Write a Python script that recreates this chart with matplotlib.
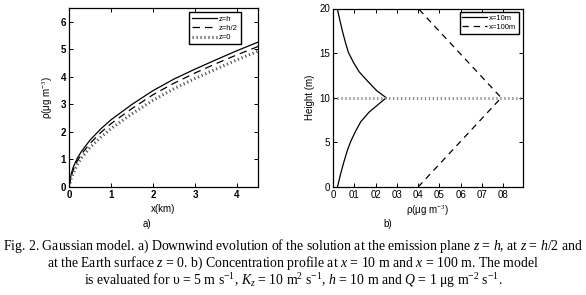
import matplotlib.pyplot as plt
import numpy as np

plt.rcParams['font.family'] = ['Liberation Sans', 'DejaVu Sans']
plt.rcParams['mathtext.fontset'] = 'custom'
plt.rcParams['mathtext.rm'] = 'Liberation Serif'
plt.rcParams['mathtext.it'] = 'Liberation Serif:italic'

# a) downwind evolution (read off the picture)
x_km = [0, 0.05, 0.1, 0.2, 0.3, 0.5, 0.75, 1, 1.5, 2, 2.5, 3, 3.5, 4, 4.5]
rho_h = [0, 0.45, 0.72, 1.05, 1.3, 1.7, 2.1, 2.44, 3.0, 3.5, 3.92, 4.28, 4.62, 4.95, 5.26]
rho_h2 = [0, 0.38, 0.62, 0.95, 1.2, 1.58, 1.97, 2.3, 2.85, 3.35, 3.77, 4.14, 4.48, 4.8, 5.1]
rho_0 = [0, 0.3, 0.5, 0.82, 1.06, 1.43, 1.8, 2.12, 2.66, 3.15, 3.57, 3.94, 4.28, 4.62, 4.93]

# b) vertical profiles
height = [0, 1.4, 2.8, 4.0, 5.1, 6.2, 7.3, 8.4, 9.2, 10, 10.8, 11.8, 12.9, 14.0, 15.1, 16.3, 17.4, 18.7, 20]
rho_10m = [0.021, 0.035, 0.051, 0.066, 0.083, 0.105, 0.13, 0.17, 0.21, 0.25,
           0.205, 0.165, 0.123, 0.095, 0.072, 0.057, 0.045, 0.032, 0.02]
height_100 = [0, 10, 20]
rho_100m = [0.40, 0.79, 0.40]
source_x = [0, 0.89]
source_h = [10, 10]

xticks_b = [0, 0.1, 0.2, 0.3, 0.4, 0.5, 0.6, 0.7, 0.8]
xlabels_b = ['0', '01', '02', '03', '04', '05', '06', '07', '08']

fig = plt.figure(figsize=(5.86, 2.95), dpi=100)

# panel a
ax1 = fig.add_axes([69/586, 1-187/295, 189/586, 179/295])
ax1.plot(x_km, rho_h, color='k', lw=0.9, label='z=h')
ax1.plot(x_km, rho_h2, color='k', lw=0.9, ls=(0, (6, 4)), label='z=h/2')
ax1.plot(x_km, rho_0, color='#555555', lw=2.2, ls=(0, (0.4, 0.9)), label='z=0')
ax1.set_xlim(0, 4.5)
ax1.set_ylim(0, 6.5)
ax1.set_xticks([0, 1, 2, 3, 4])
ax1.set_yticks([0, 1, 2, 3, 4, 5, 6])
ax1.set_xlabel('x(km)', fontsize=7, labelpad=3)
ax1.set_ylabel(r'ρ(μg m$^{-3}$)', fontsize=7, labelpad=4)
for lab in ax1.get_xticklabels() + ax1.get_yticklabels():
    lab.set_fontweight('bold')
ax1.legend(loc='upper right', bbox_to_anchor=(0.91, 0.975), fontsize=5.5,
           frameon=True, fancybox=False, edgecolor='k', framealpha=1,
           handlelength=3.2, handletextpad=0.3, borderpad=0.4,
           labelspacing=0.25, borderaxespad=0)

# panel b
ax2 = fig.add_axes([333/586, 1-187/295, 189.5/586, 178.5/295])
ax2.plot(rho_10m, height, color='k', lw=0.9, label='x=10m')
ax2.plot(rho_100m, height_100, color='k', lw=0.9, ls=(0, (5, 4)), label='x=100m')
ax2.plot(source_x, source_h, color='#888888', lw=2.2, ls=(0, (0.4, 0.9)))
ax2.set_xlim(0, 0.89)
ax2.set_ylim(0, 20)
ax2.set_xticks(xticks_b)
ax2.set_xticklabels(xlabels_b)
ax2.set_yticks([0, 5, 10, 15, 20])
ax2.set_xlabel(r'ρ(μg m$^{-3}$)', fontsize=7, labelpad=3)
ax2.set_ylabel('Height (m)', fontsize=7, labelpad=3)
ax2.legend(loc='upper right', bbox_to_anchor=(0.98, 0.98), fontsize=5.5,
           frameon=True, fancybox=False, edgecolor='k', framealpha=1,
           handlelength=3.2, handletextpad=0.3, borderpad=0.35,
           labelspacing=0.2, borderaxespad=0)

for ax in (ax1, ax2):
    ax.tick_params(direction='in', top=True, right=True, labelsize=7,
                   length=3, width=0.7, pad=2)
    for s in ax.spines.values():
        s.set_linewidth(0.9)

fig.text(147/586, 1-224/295, 'a)', fontsize=7, ha='center', va='center')
fig.text(388/586, 1-224/295, 'b)', fontsize=7, ha='center', va='center')

cap_kw = dict(fontsize=9.9, ha='center', va='center', family='Liberation Serif')
fig.text(0.5, 1-246/295,
         r'Fig. 2. Gaussian model. a) Downwind evolution of the solution at the emission plane $z$ = $h$, at $z$ = $h$/2 and',
         **cap_kw)
fig.text(0.5, 1-263/295,
         r'at the Earth surface $z$ = 0. b) Concentration profile at $x$ = 10 m and $x$ = 100 m. The model',
         **cap_kw)
fig.text(0.5, 1-281/295,
         r'is evaluated for υ = 5 m s$^{-1}$, $K_z$ = 10 m$^2$ s$^{-1}$, $h$ = 10 m and $Q$ = 1 μg m$^{-2}$ s$^{-1}$.',
         **cap_kw)

fig.savefig('out.png', dpi=100)
